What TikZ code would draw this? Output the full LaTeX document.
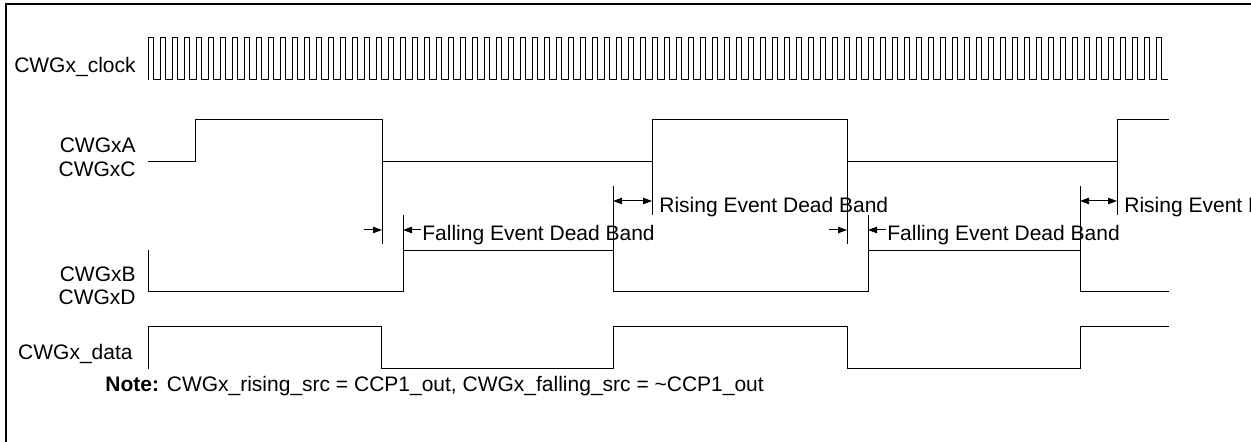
\documentclass[tikz,border=0pt]{standalone}
\usepackage{fontspec}
\setmainfont{Liberation Sans}
\usetikzlibrary{arrows.meta}
\tikzset{
  wave/.style={line width=0.5pt, line join=miter},
  guide/.style={line width=0.5pt},
  dbarrow/.style={-{Triangle[length=4.5pt,width=3.2pt]}, line width=0.5pt},
  dbboth/.style={{Triangle[length=4.5pt,width=3.2pt]}-{Triangle[length=4.5pt,width=3.2pt]}, line width=0.5pt},
  siglabel/.style={anchor=base east, inner sep=0pt, font=\fontsize{10.5}{12}\selectfont},
  dblabel/.style={anchor=base west, inner sep=0pt, font=\fontsize{10.5}{12}\selectfont},
}

\begin{document}
\begin{tikzpicture}[x=0.5pt, y=-0.5pt]
  \useasboundingbox (0,0) rectangle (1251,442);
  \clip (0,0) rectangle (1251,442);
  \draw[line width=1.3pt] (6,4) rectangle (1265,455);

  % signal names
  \node[siglabel] (lclk)  at (136,73)  {CWGx\_clock};
  \node[siglabel] (lA)    at (136,153) {CWGxA};
  \node[siglabel] (lC)    at (136,177) {CWGxC};
  \node[siglabel] (lB)    at (136,282) {CWGxB};
  \node[siglabel] (lD)    at (136,305) {CWGxD};
  \node[siglabel] (ldata) at (133,360) {CWGx\_data};

  % waveforms
  \draw[wave] (148,80) \foreach \k in {0,...,84}{ -- ++(0,-42) -- ++(5,0) -- ++(0,42) -- ++(7,0) };
  \draw[wave] (148,162) -- (195,162) -- (195,120) -- (382,120) -- (382,162) -- (652,162)
    -- (652,120) -- (847,120) -- (847,162) -- (1117,162) -- (1117,120) -- (1169,120);
  \draw[wave] (148,250) -- (148,292) -- (403,292) -- (403,251) -- (613,251) -- (613,292)
    -- (868,292) -- (868,251) -- (1080,251) -- (1080,292) -- (1169,292);
  \draw[wave] (148,369) -- (148,327) -- (381,327) -- (381,369) -- (613,369) -- (613,327)
    -- (847,327) -- (847,369) -- (1080,369) -- (1080,327) -- (1169,327);

  % dead band guides
  \draw[guide] (382,162) -- (382,244)  (403,215) -- (403,251);
  \draw[guide] (613,186) -- (613,251)  (652,162) -- (652,215);
  \draw[guide] (847,162) -- (847,244)  (868,215) -- (868,251);
  \draw[guide] (1080,186) -- (1080,251)  (1117,162) -- (1117,215);

  % falling event dead band
  \coordinate (f1t) at (364,230);  \coordinate (f1a) at (382,230);
  \coordinate (f1u) at (421,230);  \coordinate (f1b) at (403,230);
  \draw[dbarrow] (f1t) -- (f1a);
  \draw[dbarrow] (f1u) -- (f1b);
  \node[dblabel] (fall1) at (422,241) {Falling Event Dead Band};

  \coordinate (f2t) at (829,230);  \coordinate (f2a) at (847,230);
  \coordinate (f2u) at (886,230);  \coordinate (f2b) at (868,230);
  \draw[dbarrow] (f2t) -- (f2a);
  \draw[dbarrow] (f2u) -- (f2b);
  \node[dblabel] (fall2) at (887,241) {Falling Event Dead Band};

  % rising event dead band
  \coordinate (r1a) at (613,201);  \coordinate (r1b) at (652,201);
  \draw[dbboth] (r1a) -- (r1b);
  \node[dblabel] (rise1) at (659,213) {Rising Event Dead Band};

  \coordinate (r2a) at (1080,201);  \coordinate (r2b) at (1117,201);
  \draw[dbboth] (r2a) -- (r2b);
  \node[dblabel] (rise2) at (1124,213) {Rising Event Dead Band};

  \node[dblabel] (note) at (105,392)
    {\textbf{Note:} CWGx\_rising\_src = CCP1\_out, CWGx\_falling\_src = \textasciitilde CCP1\_out};
\end{tikzpicture}
\end{document}
